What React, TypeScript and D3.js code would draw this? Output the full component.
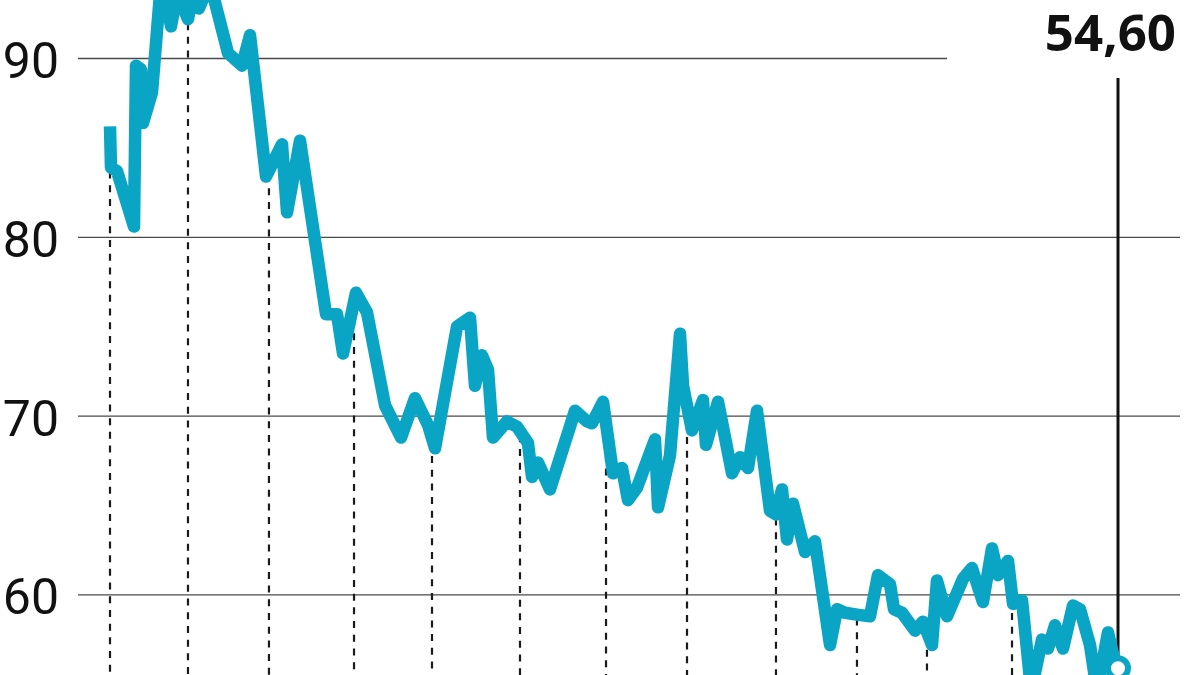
import React from "react";
import * as d3 from "d3";

// time in months from the first observation, index value
const months = [
  0, 0.14, 1.0, 3.43, 3.71, 4.43, 4.71, 6.0, 7.14, 7.86, 8.71, 9.57, 10.29, 11.14, 11.86, 12.71, 13.57, 14.57,
  16.86, 18.86, 20.0, 22.29, 24.57, 25.29, 27.14, 30.86, 32.43, 33.29, 35.14, 36.71, 39.29, 41.57, 43.57, 45.43,
  46.43, 49.57, 51.43, 52.14, 53.14, 54.0, 54.71, 56.71, 58.14, 59.71, 60.29, 61.14, 62.86, 66.43, 68.14, 68.86,
  70.43, 71.86, 73.14, 74.0, 75.29, 77.86, 78.29, 80.0, 81.43, 81.86, 83.14, 84.71, 85.14, 86.86, 88.86, 90.0,
  91.14, 92.43, 94.29, 95.14, 96.0, 96.71, 97.57, 99.29, 100.71, 102.86, 103.86, 105.0, 106.71, 108.57, 109.71,
  111.43, 112.0, 113.14, 115.0, 116.14, 117.43, 118.14, 119.57, 121.86, 123.14, 124.71, 126.0, 126.86, 128.29,
  129.0, 130.29, 131.6, 133.14, 134.0, 135.0, 136.14, 137.57, 138.57, 140.0, 141.0, 142.57, 143.4, 144.0,
];
const values = [
  86.2, 83.9, 83.7, 80.6, 89.6, 89.4, 86.4, 88.1, 93.6, 93.8, 91.8, 93.6, 93.0, 92.2, 93.6, 92.8, 93.6, 93.8,
  90.3, 89.6, 91.3, 83.4, 85.2, 81.4, 85.4, 75.7, 75.7, 73.5, 76.9, 75.8, 70.6, 68.8, 71.0, 69.5,
  68.2, 75.0, 75.5, 71.7, 73.4, 72.6, 68.8, 69.7, 69.4, 68.5, 66.6, 67.4, 65.9, 70.3, 69.7, 69.6,
  70.8, 66.8, 67.1, 65.3, 66.0, 68.7, 64.9, 67.8, 74.6, 71.7, 69.2, 70.9, 68.4, 70.8, 66.8, 67.7,
  67.1, 70.3, 64.7, 64.5, 65.9, 63.1, 65.1, 62.4, 63.0, 57.2, 59.2, 59.0, 58.9, 58.8, 61.1,
  60.6, 59.2, 59.0, 58.0, 58.5, 57.2, 60.8, 58.8, 60.9, 61.5, 59.6, 62.6, 61.1, 61.9,
  59.5, 59.7, 54.6, 57.5, 57.0, 58.3, 57.0, 59.4, 59.2, 57.2, 54.6, 57.9, 56.5, 55.9,
];

// reference (drop) lines, in months
const markerMonths = [0, 11.14, 22.71, 34.86, 46.0, 58.57, 70.86, 82.43, 95.14, 106.71, 116.71, 128.86];

const yTicks = [60, 70, 80, 90];
const lastLabel = "54,60";

const W = 1200;
const H = 675;
const TEAL = "#0aa5c5";

export default function App() {
  const x = d3.scaleLinear().domain([0, 144]).range([110, 1118]);
  const y = d3.scaleLinear().domain([60, 90]).range([594.9, 58.5]);

  const pts: [number, number][] = months.map((m, i) => [m, values[i]]);
  const line = d3
    .line<[number, number]>()
    .x((d) => x(d[0]))
    .y((d) => y(d[1]));

  const interp = (m: number) => {
    for (let i = 0; i < months.length - 1; i++) {
      if (m >= months[i] && m <= months[i + 1]) {
        const f = months[i + 1] === months[i] ? 0 : (m - months[i]) / (months[i + 1] - months[i]);
        return values[i] + f * (values[i + 1] - values[i]);
      }
    }
    return values[values.length - 1];
  };

  const lastM = months[months.length - 1];
  const lastV = values[values.length - 1];
  const topTick = d3.max(yTicks) as number;

  return (
    <div style={{ position: "fixed", left: 0, top: 0, width: W, height: H, background: "#fff" }}>
      <svg width={W} height={H} style={{ display: "block" }}>
        <rect width={W} height={H} fill="#fff" />
        {yTicks.map((t) => (
          <g key={t}>
            <line
              x1={78}
              x2={t === topTick ? 947 : 1180}
              y1={y(t)}
              y2={y(t)}
              stroke="#4a4a4a"
              strokeWidth={1.3}
            />
            <text
              x={59}
              y={y(t) + 19.5}
              textAnchor="end"
              fontFamily="Roboto, sans-serif"
              fontSize={50}
              fill="#111"
            >
              {t}
            </text>
          </g>
        ))}
        {markerMonths.map((m) => (
          <line
            key={m}
            x1={x(m)}
            x2={x(m)}
            y1={y(interp(m)) + 4}
            y2={H + 10}
            stroke="#1a1a1a"
            strokeWidth={2.2}
            strokeDasharray="7,6.7"
          />
        ))}
        <line x1={x(lastM)} x2={x(lastM)} y1={78} y2={y(lastV)} stroke="#111" strokeWidth={3} />
        <path
          d={line(pts) || ""}
          fill="none"
          stroke={TEAL}
          strokeWidth={12.5}
          strokeLinejoin="round"
          strokeLinecap="butt"
        />
        <circle cx={x(lastM)} cy={y(lastV)} r={10} fill="#fff" stroke={TEAL} strokeWidth={6} />
        <text
          x={1176}
          y={51}
          textAnchor="end"
          fontFamily="'Open Sans', sans-serif"
          fontWeight={700}
          fontSize={51}
          fill="#111"
        >
          {lastLabel}
        </text>
      </svg>
    </div>
  );
}
